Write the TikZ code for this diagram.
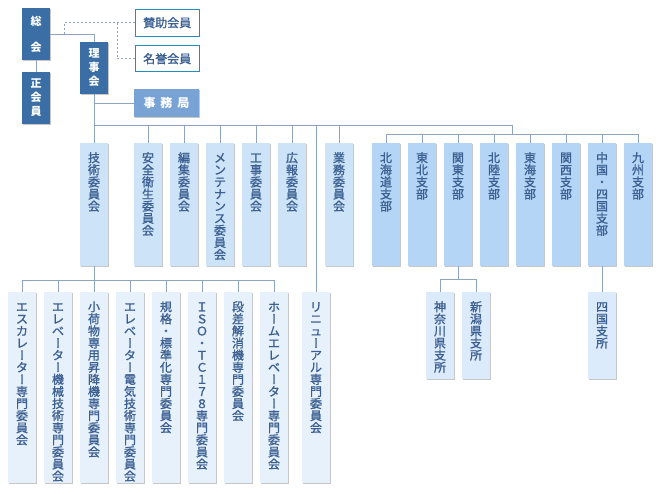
\documentclass[tikz,border=0pt]{standalone}
\usepackage{fontspec}
\setmainfont{Noto Sans CJK JP}
\newfontfamily\mfont{Noto Sans CJK JP}[FakeBold=1.2]
\usepackage{graphicx}
\usetikzlibrary{shadows}
\definecolor{dk}{HTML}{3A6EA5}
\definecolor{jm}{HTML}{7AA3D5}
\definecolor{bd}{HTML}{1F8FC3}
\definecolor{cm}{HTML}{CDE3F7}
\definecolor{br}{HTML}{B4D5F6}
\definecolor{bt}{HTML}{E6F1FB}
\definecolor{sb}{HTML}{DCEBFB}
\definecolor{tx}{HTML}{3B5F91}
\definecolor{ln}{HTML}{8EA4BF}
\newcommand\cho{\raisebox{0.38em}{\rotatebox[origin=c]{-90}{\raisebox{-0.38em}[0pt][0pt]{ー}}}}
\tikzset{
  x=1pt, y=-1pt,
  basebox/.style={rectangle, inner sep=0pt, outer sep=0pt, anchor=north west,
    drop shadow={shadow xshift=1pt, shadow yshift=-1pt, fill=black, opacity=0.22}},
  dkbox/.style={basebox, fill=dk, text=white, align=center,
    font=\fontsize{11}{14}\selectfont\bfseries},
  jmbox/.style={basebox, fill=jm, text=white, align=center,
    font=\fontsize{12}{14}\selectfont\bfseries},
  wbox/.style={rectangle, inner sep=0pt, anchor=north west, fill=white, draw=bd,
    line width=1.4pt, text=tx, font=\fontsize{12}{14}\selectfont\mfont},
  cmbox/.style={basebox, fill=cm},
  brbox/.style={basebox, fill=br},
  btbox/.style={basebox, fill=bt},
  sbbox/.style={basebox, fill=sb},
  vtxt/.style={anchor=north, inner sep=0pt, align=center, text=tx,
    font=\fontsize{12}{12.1}\selectfont\mfont},
  conn/.style={draw=ln, line width=1pt},
  dsh/.style={draw=ln, line width=1pt, dash pattern=on 2pt off 2pt},
}
\newcommand\vbx[6]{%
  \node[#2, minimum width=28pt, minimum height=#5pt] (#1) at (#3,#4) {};
  \node[vtxt] (#1-t) at ([yshift=-9pt]#1.north) {\vphantom{会}#6};}
\begin{document}
\begin{tikzpicture}
\useasboundingbox (0,0) rectangle (660,493);
% top
\node[dkbox, minimum width=28pt, minimum height=52pt] (sokai) at (22,8) {総\\[12pt]会};
\node[dkbox, minimum width=28pt, minimum height=52pt] (seikai) at (22,72) {正\\会\\員};
\node[dkbox, minimum width=28pt, minimum height=52pt] (rijikai) at (80,42) {理\\事\\会};
\node[wbox, minimum width=64pt, minimum height=27pt] (sanjo) at (134.5,8.5) {賛助会員};
\node[wbox, minimum width=64pt, minimum height=26pt] (meiyo) at (134.5,45) {名誉会員};
\node[jmbox, minimum width=65pt, minimum height=28pt] (jimu) at (134,89) {事\hspace{5pt}務\hspace{5pt}局};
% committees
\vbx{gijutsu}{cmbox}{80}{143}{123}{技\\術\\委\\員\\会}
\vbx{anzen}{cmbox}{134}{143}{123}{安\\全\\衛\\生\\委\\員\\会}
\vbx{henshu}{cmbox}{170}{143}{123}{編\\集\\委\\員\\会}
\vbx{mainte}{cmbox}{206}{143}{123}{メ\\ン\\テ\\ナ\\ン\\ス\\委\\員\\会}
\vbx{koji}{cmbox}{242}{143}{123}{工\\事\\委\\員\\会}
\vbx{koho}{cmbox}{278}{143}{123}{広\\報\\委\\員\\会}
\vbx{gyomu}{cmbox}{325}{143}{123}{業\\務\\委\\員\\会}
% branches
\vbx{hokkaido}{brbox}{372}{143}{123}{北\\海\\道\\支\\部}
\vbx{tohoku}{brbox}{408}{143}{123}{東\\北\\支\\部}
\vbx{kanto}{brbox}{444}{143}{123}{関\\東\\支\\部}
\vbx{hokuriku}{brbox}{480}{143}{123}{北\\陸\\支\\部}
\vbx{tokai}{brbox}{516}{143}{123}{東\\海\\支\\部}
\vbx{kansai}{brbox}{552}{143}{123}{関\\西\\支\\部}
\vbx{chushi}{brbox}{588}{143}{123}{中\\国\\・\\四\\国\\支\\部}
\vbx{kyushu}{brbox}{624}{143}{123}{九\\州\\支\\部}
% technical sub committees
\vbx{b1}{btbox}{8}{292}{191}{エ\\ス\\カ\\レ\\\cho\\タ\\\cho\\専\\門\\委\\員\\会}
\vbx{b2}{btbox}{44}{292}{191}{エ\\レ\\ベ\\\cho\\タ\\\cho\\機\\械\\技\\術\\専\\門\\委\\員\\会}
\vbx{b3}{btbox}{80}{292}{191}{小\\荷\\物\\専\\用\\昇\\降\\機\\専\\門\\委\\員\\会}
\vbx{b4}{btbox}{116}{292}{191}{エ\\レ\\ベ\\\cho\\タ\\\cho\\電\\気\\技\\術\\専\\門\\委\\員\\会}
\vbx{b5}{btbox}{152}{292}{191}{規\\格\\・\\標\\準\\化\\専\\門\\委\\員\\会}
\vbx{b6}{btbox}{188}{292}{191}{Ｉ\\Ｓ\\Ｏ\\・\\Ｔ\\Ｃ\\１\\７\\８\\専\\門\\委\\員\\会}
\vbx{b7}{btbox}{224}{292}{191}{段\\差\\解\\消\\機\\専\\門\\委\\員\\会}
\vbx{b8}{btbox}{260}{292}{191}{ホ\\\cho\\ム\\エ\\レ\\ベ\\\cho\\タ\\\cho\\専\\門\\委\\員\\会}
\vbx{renewal}{btbox}{302}{292}{191}{リ\\ニ\\ュ\\\cho\\ア\\ル\\専\\門\\委\\員\\会}
% branch offices
\vbx{kanagawa}{sbbox}{426}{292}{87}{神\\奈\\川\\県\\支\\所}
\vbx{niigata}{sbbox}{462}{292}{87}{新\\潟\\県\\支\\所}
\vbx{shikoku}{sbbox}{588}{292}{87}{四\\国\\支\\所}
% connectors
\draw[conn] (sokai) -- (seikai);
\draw[conn] (sokai.east) -| (rijikai.north);
\coordinate (d0) at (64,34);
\coordinate (d1) at (117,22.5);
\draw[dsh] (d0) |- (sanjo.west);
\draw[dsh] (d1) |- (meiyo.west);
\draw[conn] (rijikai.south) -- (gijutsu.north);
\draw[conn] (rijikai.south |- jimu.west) -- (jimu.west);
\coordinate (bus0) at (94,125);
\coordinate (busE) at (512,125);
\coordinate (bb) at (512,134);
\draw[conn] (bus0) -- (busE) -- (bb);
\foreach \n in {anzen,henshu,mainte,koji,koho,renewal,gyomu}
  \draw[conn] (\n.north |- bus0) -- (\n.north);
\draw[conn] (hokkaido.north |- bb) -- (kyushu.north |- bb);
\foreach \n in {hokkaido,tohoku,kanto,hokuriku,tokai,kansai,chushi,kyushu}
  \draw[conn] (\n.north |- bb) -- (\n.north);
\coordinate (bb2) at (94,280);
\draw[conn] (gijutsu.south) -- (bb2);
\draw[conn] (b1.north |- bb2) -- (b8.north |- bb2);
\foreach \n in {b1,b2,b3,b4,b5,b6,b7,b8}
  \draw[conn] (\n.north |- bb2) -- (\n.north);
\coordinate (bb3) at (458,279);
\draw[conn] (kanto.south) -- (bb3);
\draw[conn] (kanagawa.north |- bb3) -- (niigata.north |- bb3);
\draw[conn] (kanagawa.north |- bb3) -- (kanagawa.north);
\draw[conn] (niigata.north |- bb3) -- (niigata.north);
\draw[conn] (chushi.south) -- (shikoku.north);
\end{tikzpicture}
\end{document}
